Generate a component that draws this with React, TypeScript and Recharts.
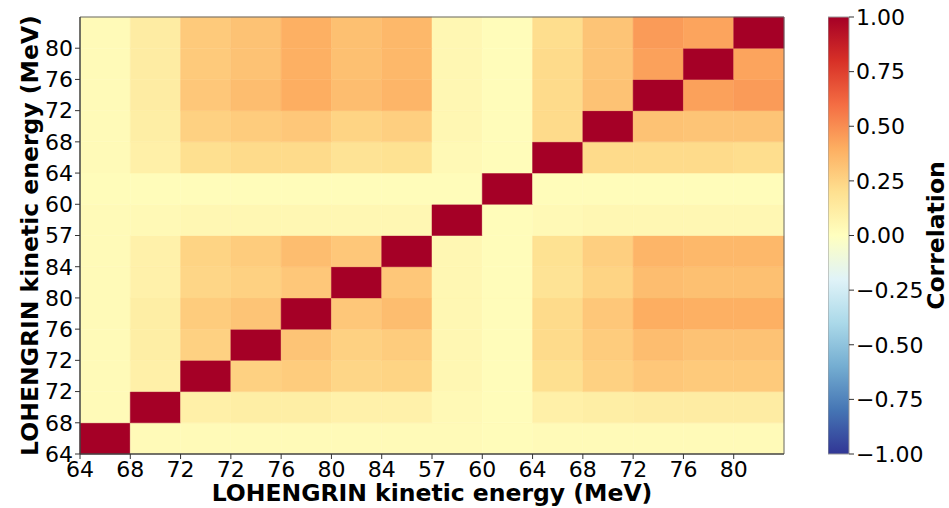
import React from 'react';
import { ScatterChart, Scatter, XAxis, YAxis, ReferenceArea, Label } from 'recharts';

// tick labels (same order on both axes, bottom-to-top / left-to-right)
const energyLabels = ['64', '68', '72', '72', '76', '80', '84', '57', '60', '64', '68', '72', '76', '80'];

// correlation rows, row 0 = bottom (64), columns left to right
const row64a = [1, 0.03, 0.03, 0.03, 0.03, 0.03, 0.03, 0.03, 0.02, 0.03, 0.03, 0.03, 0.03, 0.03];
const row68a = [0.03, 1, 0.1, 0.11, 0.11, 0.09, 0.09, 0.04, 0.02, 0.1, 0.11, 0.12, 0.12, 0.12];
const row72a = [0.03, 0.1, 1, 0.26, 0.28, 0.24, 0.25, 0.05, 0.02, 0.2, 0.26, 0.3, 0.29, 0.29];
const row72b = [0.03, 0.11, 0.26, 1, 0.31, 0.26, 0.28, 0.05, 0.02, 0.22, 0.28, 0.34, 0.32, 0.32];
const row76a = [0.03, 0.11, 0.28, 0.31, 1, 0.3, 0.34, 0.05, 0.02, 0.22, 0.3, 0.4, 0.39, 0.39];
const row80a = [0.03, 0.09, 0.24, 0.26, 0.3, 1, 0.3, 0.05, 0.02, 0.18, 0.25, 0.34, 0.33, 0.33];
const row84a = [0.03, 0.09, 0.25, 0.28, 0.34, 0.3, 1, 0.05, 0.02, 0.19, 0.27, 0.37, 0.36, 0.36];
const row57 = [0.03, 0.04, 0.05, 0.05, 0.05, 0.05, 0.05, 1, 0.02, 0.04, 0.05, 0.05, 0.05, 0.05];
const row60 = [0.02, 0.02, 0.02, 0.02, 0.02, 0.02, 0.02, 0.02, 1, 0.02, 0.02, 0.02, 0.02, 0.02];
const row64b = [0.03, 0.1, 0.2, 0.22, 0.22, 0.18, 0.19, 0.04, 0.02, 1, 0.22, 0.22, 0.22, 0.21];
const row68b = [0.03, 0.11, 0.26, 0.28, 0.3, 0.25, 0.27, 0.05, 0.02, 0.22, 1, 0.32, 0.31, 0.31];
const row72c = [0.03, 0.12, 0.3, 0.34, 0.4, 0.34, 0.37, 0.05, 0.02, 0.22, 0.32, 1, 0.44, 0.46];
const row76b = [0.03, 0.12, 0.29, 0.32, 0.39, 0.33, 0.36, 0.05, 0.02, 0.22, 0.31, 0.44, 1, 0.43];
const row80b = [0.03, 0.12, 0.29, 0.32, 0.39, 0.33, 0.36, 0.05, 0.02, 0.21, 0.31, 0.46, 0.43, 1];

const corrRows = [row64a, row68a, row72a, row72b, row76a, row80a, row84a, row57, row60, row64b, row68b, row72c, row76b, row80b];

const colorbarTicks = [-1, -0.75, -0.5, -0.25, 0, 0.25, 0.5, 0.75, 1];

// RdYlBu, from -1 (blue) to +1 (red)
const RDYLBU = ['#313695', '#4575b4', '#74add1', '#abd9e9', '#e0f3f8', '#ffffbf', '#fee090', '#fdae61', '#f46d43', '#d73027', '#a50026'];

const FONT = 'DejaVu Sans, sans-serif';

const hexToRgb = (h: string) => [1, 3, 5].map((i) => parseInt(h.slice(i, i + 2), 16));

const corrColor = (v: number) => {
  const t = ((Math.max(-1, Math.min(1, v)) + 1) / 2) * 10;
  const i = Math.min(9, Math.floor(t));
  const f = t - i;
  const a = hexToRgb(RDYLBU[i]);
  const b = hexToRgb(RDYLBU[i + 1]);
  const c = a.map((x, k) => Math.round(x + (b[k] - x) * f));
  return `rgb(${c[0]},${c[1]},${c[2]})`;
};

const cells = corrRows.flatMap((row, y) => row.map((value, x) => ({ x, y, value })));
const centers = cells.map((c) => ({ x: c.x + 0.5, y: c.y + 0.5 }));
const tickIdx = energyLabels.map((_, i) => i);

const tickStyle = { fontSize: 22, fill: '#000', fontFamily: FONT };
const titleStyle = { fontSize: 23.5, fontWeight: 'bold', fill: '#000', fontFamily: FONT };

const VerticalTitle = ({ viewBox, value, shift }: any) => {
  const cx = viewBox.x + viewBox.width / 2 + shift;
  const cy = viewBox.y + viewBox.height / 2;
  return (
    <text x={cx} y={cy} transform={`rotate(-90 ${cx} ${cy})`} textAnchor="middle" dominantBaseline="central" style={titleStyle}>
      {value}
    </text>
  );
};

const fmtBar = (v: number) => (v < 0 ? '\u2212' : '') + Math.abs(v).toFixed(2);

export default function App() {
  return (
    <div style={{ position: 'absolute', left: 0, top: 0, width: 949, height: 508, background: '#fff' }}>
      <div style={{ position: 'absolute', left: 0, top: 0 }}>
        <ScatterChart width={800} height={508} margin={{ top: 17, right: 16, bottom: 0, left: 0 }}>
          <XAxis
            type="number"
            dataKey="x"
            domain={[0, 14]}
            ticks={tickIdx}
            interval={0}
            tickFormatter={(v: number) => energyLabels[v]}
            tick={tickStyle}
            tickSize={5}
            height={54}
            axisLine={{ stroke: '#333' }}
            tickLine={{ stroke: '#333' }}
          >
            <Label value="LOHENGRIN kinetic energy (MeV)" position="center" dy={12} style={titleStyle} />
          </XAxis>
          <YAxis
            type="number"
            dataKey="y"
            domain={[0, 14]}
            ticks={tickIdx}
            interval={0}
            tickFormatter={(v: number) => energyLabels[v]}
            tick={tickStyle}
            tickSize={5}
            width={80}
            axisLine={{ stroke: '#333' }}
            tickLine={{ stroke: '#333' }}
          >
            <Label content={(p: any) => <VerticalTitle {...p} value="LOHENGRIN kinetic energy (MeV)" shift={-10} />} />
          </YAxis>
          {cells.map((c) => (
            <ReferenceArea
              key={`${c.x}-${c.y}`}
              x1={c.x}
              x2={c.x + 1}
              y1={c.y}
              y2={c.y + 1}
              fill={corrColor(c.value)}
              fillOpacity={1}
              stroke={corrColor(c.value)}
              strokeWidth={0.5}
            />
          ))}
          <ReferenceArea x1={0} x2={14} y1={0} y2={14} fill="none" fillOpacity={0} stroke="#666" strokeWidth={1} />
          <Scatter data={centers} isAnimationActive={false} shape={() => <g />} />
        </ScatterChart>
      </div>
      <div style={{ position: 'absolute', left: 828, top: 0 }}>
        <ScatterChart width={121} height={508} margin={{ top: 17, right: 0, bottom: 54, left: 0 }}>
          <defs>
            <linearGradient id="cbGrad" x1="0" y1="0" x2="0" y2="1">
              {RDYLBU.slice().reverse().map((col, i) => (
                <stop key={i} offset={`${i * 10}%`} stopColor={col} />
              ))}
            </linearGradient>
          </defs>
          <XAxis type="number" dataKey="x" domain={[0, 1]} hide />
          <YAxis
            type="number"
            dataKey="y"
            orientation="right"
            domain={[-1, 1]}
            ticks={colorbarTicks}
            interval={0}
            tickFormatter={fmtBar}
            tick={tickStyle}
            tickSize={5}
            width={100}
            axisLine={false}
            tickLine={{ stroke: '#333' }}
          >
            <Label content={(p: any) => <VerticalTitle {...p} value="Correlation" shift={37} />} />
          </YAxis>
          <ReferenceArea x1={0} x2={1} y1={-1} y2={1} fill="url(#cbGrad)" fillOpacity={1} stroke="#999" strokeWidth={1} />
          <Scatter data={[{ x: 0.5, y: 0 }]} isAnimationActive={false} shape={() => <g />} />
        </ScatterChart>
      </div>
    </div>
  );
}
